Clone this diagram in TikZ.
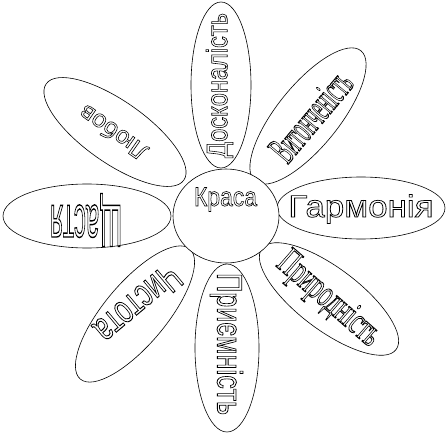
\documentclass[tikz,border=0pt]{standalone}
\usepackage{fontspec}
\setmainfont{Liberation Sans}
\newfontfamily\serifword{Liberation Serif}
\usepackage{graphicx}
% hollow word squeezed into a box: width, total height, text
\newcommand{\hollow}[3]{\resizebox*{#1}{#2}{\special{pdf:literal direct 1 Tr 0.7 w}#3}}

\tikzset{
  petal/.style={draw, line width=0.6pt},
  word/.style={inner sep=0pt, font=\fontsize{30}{30}\selectfont},
  serifword/.style={word, font=\serifword\fontsize{30}{30}\selectfont},
}

\begin{document}
\begin{tikzpicture}[x=1pt,y=-1pt]
\useasboundingbox (0,0) rectangle (448,434);

% petals, clockwise from the top
\draw [petal, rotate around={90:(221,85)}] (221,85) ellipse [x radius=83pt, y radius=30pt];     % top
\draw [petal, rotate around={51:(308,116)}] (308,116) ellipse [x radius=84pt, y radius=31pt];   % upper right
\draw [petal] (361,208) ellipse [x radius=84pt, y radius=31pt];                                 % right
\draw [petal, rotate around={-37:(329,299)}] (329,299) ellipse [x radius=84pt, y radius=31pt];  % lower right
\draw [petal, rotate around={90:(227,348)}] (227,348) ellipse [x radius=84pt, y radius=32pt];    % bottom
\draw [petal, rotate around={50:(135,314)}] (135,314) ellipse [x radius=85pt, y radius=31pt];   % lower left
\draw [petal] (87,216) ellipse [x radius=84pt, y radius=32pt];                                  % left
\draw [petal, rotate around={-35:(115,132)}] (115,132) ellipse [x radius=84pt, y radius=31pt];  % upper left

% centre
\draw [petal, fill=white] (226,216) ellipse [x radius=53pt, y radius=47pt];

\node [word] (krasa) at (225.5,199.5) {\hollow{63pt}{24pt}{Краса}};

\node [word, rotate=90] (doskonalist) at (219.5,85.5) {\hollow{145pt}{27pt}{Досконалість}};
\node [serifword, rotate=50] (vytonchenist) at (311,116) {\hollow{105pt}{28pt}{Витонченість}};
\node [word] (harmonia) at (361,209) {\hollow{145pt}{29pt}{Гармонія}};
\node [serifword, rotate=-41] (pryrodnist) at (328,300) {\hollow{125pt}{34pt}{Природність}};
\node [word, rotate=-90] (pryiemnist) at (226.5,344) {\hollow{142pt}{33pt}{Приємність}};
\node [word, rotate=220] (chystota) at (138,304) {\hollow{100pt}{28pt}{Чистота}};
\node [word, rotate=180] (shchastia) at (86,220) {\hollow{72pt}{53pt}{Щастя}};
\node [word, rotate=145] (liubov) at (113,133) {\hollow{78pt}{18pt}{Любов}};
\end{tikzpicture}
\end{document}
